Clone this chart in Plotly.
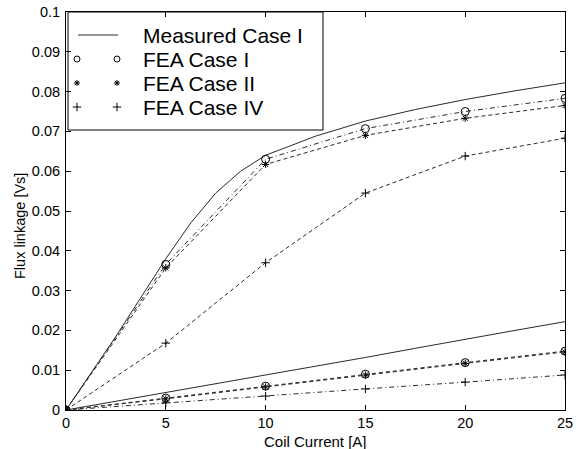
import plotly.graph_objects as go

# ---------------- data ----------------
current_fea = [0, 5, 10, 15, 20, 25]
current_meas = [0, 2.5, 5, 6.25, 7.5, 8.75, 10, 12.5, 15, 17.5, 20, 22.5, 25]

# upper group (aligned)
meas_upper = [0, 0.0185, 0.0380, 0.0470, 0.0545, 0.0600, 0.0640, 0.0688, 0.0726, 0.0755, 0.0780, 0.0802, 0.0822]
fea1_upper = [0, 0.0366, 0.0630, 0.0707, 0.0750, 0.0783]
fea2_upper = [0, 0.0357, 0.0617, 0.0690, 0.0733, 0.0765]
fea4_upper = [0, 0.0168, 0.0370, 0.0545, 0.0638, 0.0683]

# lower group (unaligned)
meas_lower = [0, 0.0022, 0.0043, 0.0054, 0.0066, 0.0077, 0.0088, 0.0110, 0.0132, 0.0155, 0.0178, 0.0200, 0.0222]
fea1_lower = [0, 0.0030, 0.0060, 0.0090, 0.0119, 0.0148]
fea2_lower = [0, 0.0028, 0.0058, 0.0088, 0.0117, 0.0146]
fea4_lower = [0, 0.0018, 0.0035, 0.0053, 0.0070, 0.0088]

x_ticks = [0, 5, 10, 15, 20, 25]
y_ticks = [0, 0.01, 0.02, 0.03, 0.04, 0.05, 0.06, 0.07, 0.08, 0.09, 0.1]
y_tick_labels = ["0", "0.01", "0.02", "0.03", "0.04", "0.05", "0.06", "0.07", "0.08", "0.09", "0.1"]

legend_labels = ["Measured Case I", "FEA Case I", "FEA Case II", "FEA Case IV"]
x_title = "Coil Current [A]"
y_title = "Flux linkage [Vs]"

# ---------------- figure ----------------
FONT = "Liberation Sans, Arial, Helvetica, sans-serif"
LINE = "#2a2a2a"
DASH = "4px,3px"
DASHDOT = "5px,3px,1px,3px"

fig = go.Figure()

def add(x, y, mode, dash, symbol=None, size=8, width=1):
    tr = dict(x=x, y=y, mode=mode, showlegend=False, hoverinfo="skip",
              line=dict(color=LINE, width=width, dash=dash))
    if symbol:
        tr["marker"] = dict(symbol=symbol, size=size, color="black",
                            line=dict(color="black", width=1))
    fig.add_trace(go.Scatter(**tr))

add(current_meas, meas_upper, "lines", "solid")
add(current_fea, fea1_upper, "lines+markers", DASHDOT, "circle-open", 8)
add(current_fea, fea2_upper, "lines+markers", DASH, "asterisk-open", 6)
add(current_fea, fea4_upper, "lines+markers", DASH, "cross-thin-open", 6)

add(current_meas, meas_lower, "lines", "solid")
add(current_fea, fea1_lower, "lines+markers", DASH, "circle-open", 8)
add(current_fea, fea2_lower, "lines+markers", DASH, "asterisk-open", 6)
add(current_fea, fea4_lower, "lines+markers", DASHDOT, "cross-thin-open", 6)

# ---- legend drawn on an overlay axis in pixel units ----
L, R, T, B = 66, 565, 12, 410
leg_rows_y = [35, 59, 83, 107]
sym = [None, "circle-open", "asterisk-open", "cross-thin-open"]
sizes = [0, 6, 5, 6]
for i, lab in enumerate(legend_labels):
    yy = leg_rows_y[i]
    if sym[i] is None:
        fig.add_trace(go.Scatter(x=[78, 118], y=[yy, yy], mode="lines", xaxis="x2", yaxis="y2",
                                 line=dict(color=LINE, width=1), showlegend=False, hoverinfo="skip"))
    else:
        fig.add_trace(go.Scatter(x=[77, 117], y=[yy, yy], mode="markers", xaxis="x2", yaxis="y2",
                                 marker=dict(symbol=sym[i], size=sizes[i], color="black",
                                             line=dict(color="black", width=1)),
                                 showlegend=False, hoverinfo="skip"))
    fig.add_annotation(x=141, y=yy, xref="x2", yref="y2", text=lab, showarrow=False,
                       xanchor="left", yanchor="middle",
                       font=dict(family=FONT, size=21, color="black"))

fig.add_shape(type="rect", xref="x2", yref="y2", x0=68, x1=323, y0=12, y1=130,
              line=dict(color="black", width=1), fillcolor="white", layer="below")

def px_to_paper(px, py):
    return (px - L) / (R - L), (B - py) / (B - T)

xt_x, xt_y = px_to_paper(315, 441)
yt_x, yt_y = px_to_paper(20, 226)
fig.add_annotation(x=xt_x, y=xt_y, xref="paper", yref="paper", text=x_title, showarrow=False,
                   xanchor="center", yanchor="middle",
                   font=dict(family=FONT, size=15, color="black"))
fig.add_annotation(x=yt_x, y=yt_y, xref="paper", yref="paper", text=y_title, showarrow=False,
                   textangle=-90, xanchor="center", yanchor="middle",
                   font=dict(family=FONT, size=14.5, color="black"))

axis_common = dict(showgrid=False, zeroline=False, showline=True, linecolor="black",
                   linewidth=1, mirror="ticks", ticks="inside", ticklen=5,
                   tickcolor="black", automargin=False,
                   tickfont=dict(family=FONT, size=14.5, color="black"))

fig.update_layout(
    width=579, height=449,
    margin=dict(l=L, r=579 - R, t=T, b=449 - B),
    paper_bgcolor="white", plot_bgcolor="white",
    showlegend=False,
    xaxis=dict(range=[0, 25], tickvals=x_ticks, ticktext=[str(v) for v in x_ticks],
               ticklabelstandoff=0, **axis_common),
    yaxis=dict(range=[0, 0.1], tickvals=y_ticks, ticktext=y_tick_labels,
               ticklabelstandoff=2, **axis_common),
    xaxis2=dict(range=[L, R], overlaying="x", visible=False, fixedrange=True),
    yaxis2=dict(range=[B, T], overlaying="y", visible=False, fixedrange=True),
)

fig.write_html("out.html")
